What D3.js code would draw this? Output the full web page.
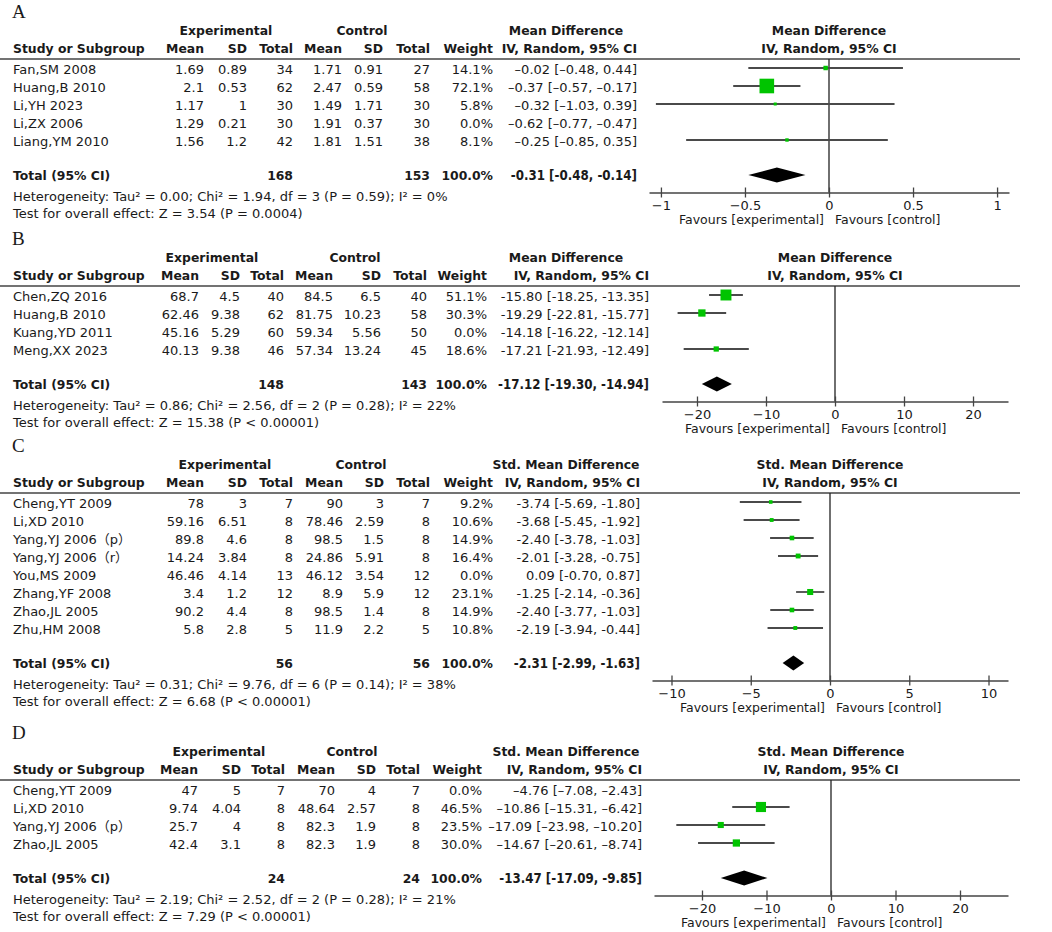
<!DOCTYPE html>
<html>
<head>
<meta charset="utf-8">
<script src="https://cdn.jsdelivr.net/npm/d3@7"></script>
<style>
  body { margin: 0; background: #fff; }
  svg text { font-family: "DejaVu Sans", "Noto Sans CJK SC", sans-serif; fill: #1a1a1a; }
  svg text.cond { font-family: "DejaVu Sans Condensed", "DejaVu Sans", sans-serif; font-stretch: condensed; }
</style>
</head>
<body>
<div id="container"></div>
<script>
/** DATA */
// A
const studiesA = ["Fan,SM 2008", "Huang,B 2010", "Li,YH 2023", "Li,ZX 2006", "Liang,YM 2010"];
const expMeanA = [1.69, 2.1, 1.17, 1.29, 1.56];
const expSdA = [0.89, 0.53, 1, 0.21, 1.2];
const expNA = [34, 62, 30, 30, 42];
const ctlMeanA = [1.71, 2.47, 1.49, 1.91, 1.81];
const ctlSdA = [0.91, 0.59, 1.71, 0.37, 1.51];
const ctlNA = [27, 58, 30, 30, 38];
const weightA = [14.1, 72.1, 5.8, 0.0, 8.1];
const effA = [-0.02, -0.37, -0.32, -0.62, -0.25];
const lowA = [-0.48, -0.57, -1.03, -0.77, -0.85];
const highA = [0.44, -0.17, 0.39, -0.47, 0.35];
const totalA = [168, 153, 100.0, -0.31, -0.48, -0.14];
const hetA = "Heterogeneity: Tau² = 0.00; Chi² = 1.94, df = 3 (P = 0.59); I² = 0%";
const testA = "Test for overall effect: Z = 3.54 (P = 0.0004)";
const ticksA = [-1, -0.5, 0, 0.5, 1];

// B
const studiesB = ["Chen,ZQ 2016", "Huang,B 2010", "Kuang,YD 2011", "Meng,XX 2023"];
const expMeanB = [68.7, 62.46, 45.16, 40.13];
const expSdB = [4.5, 9.38, 5.29, 9.38];
const expNB = [40, 62, 60, 46];
const ctlMeanB = [84.5, 81.75, 59.34, 57.34];
const ctlSdB = [6.5, 10.23, 5.56, 13.24];
const ctlNB = [40, 58, 50, 45];
const weightB = [51.1, 30.3, 0.0, 18.6];
const effB = [-15.80, -19.29, -14.18, -17.21];
const lowB = [-18.25, -22.81, -16.22, -21.93];
const highB = [-13.35, -15.77, -12.14, -12.49];
const totalB = [148, 143, 100.0, -17.12, -19.30, -14.94];
const hetB = "Heterogeneity: Tau² = 0.86; Chi² = 2.56, df = 2 (P = 0.28); I² = 22%";
const testB = "Test for overall effect: Z = 15.38 (P < 0.00001)";
const ticksB = [-20, -10, 0, 10, 20];

// C
const studiesC = ["Cheng,YT 2009", "Li,XD 2010", "Yang,YJ 2006（p）", "Yang,YJ 2006（r）", "You,MS 2009", "Zhang,YF 2008", "Zhao,JL 2005", "Zhu,HM 2008"];
const expMeanC = [78, 59.16, 89.8, 14.24, 46.46, 3.4, 90.2, 5.8];
const expSdC = [3, 6.51, 4.6, 3.84, 4.14, 1.2, 4.4, 2.8];
const expNC = [7, 8, 8, 8, 13, 12, 8, 5];
const ctlMeanC = [90, 78.46, 98.5, 24.86, 46.12, 8.9, 98.5, 11.9];
const ctlSdC = [3, 2.59, 1.5, 5.91, 3.54, 5.9, 1.4, 2.2];
const ctlNC = [7, 8, 8, 8, 12, 12, 8, 5];
const weightC = [9.2, 10.6, 14.9, 16.4, 0.0, 23.1, 14.9, 10.8];
const effC = [-3.74, -3.68, -2.40, -2.01, 0.09, -1.25, -2.40, -2.19];
const lowC = [-5.69, -5.45, -3.78, -3.28, -0.70, -2.14, -3.77, -3.94];
const highC = [-1.80, -1.92, -1.03, -0.75, 0.87, -0.36, -1.03, -0.44];
const totalC = [56, 56, 100.0, -2.31, -2.99, -1.63];
const hetC = "Heterogeneity: Tau² = 0.31; Chi² = 9.76, df = 6 (P = 0.14); I² = 38%";
const testC = "Test for overall effect: Z = 6.68 (P < 0.00001)";
const ticksC = [-10, -5, 0, 5, 10];

// D
const studiesD = ["Cheng,YT 2009", "Li,XD 2010", "Yang,YJ 2006（p）", "Zhao,JL 2005"];
const expMeanD = [47, 9.74, 25.7, 42.4];
const expSdD = [5, 4.04, 4, 3.1];
const expND = [7, 8, 8, 8];
const ctlMeanD = [70, 48.64, 82.3, 82.3];
const ctlSdD = [4, 2.57, 1.9, 1.9];
const ctlND = [7, 8, 8, 8];
const weightD = [0.0, 46.5, 23.5, 30.0];
const effD = [-4.76, -10.86, -17.09, -14.67];
const lowD = [-7.08, -15.31, -23.98, -20.61];
const highD = [-2.43, -6.42, -10.20, -8.74];
const totalD = [24, 24, 100.0, -13.47, -17.09, -9.85];
const hetD = "Heterogeneity: Tau² = 2.19; Chi² = 2.52, df = 2 (P = 0.28); I² = 21%";
const testD = "Test for overall effect: Z = 7.29 (P < 0.00001)";
const ticksD = [-20, -10, 0, 10, 20];

const panelLabels = ["A", "B", "C", "D"];
const effectTitles = ["Mean Difference", "Mean Difference", "Std. Mean Difference", "Std. Mean Difference"];

/** LAYOUT (positions only) */
const width = 1052, height = 932;
const layout = [
  { top: 59,  zero: 829, half: 180, ext: 1.071, cols: [204, 247, 293, 342, 383, 430, 493], effRight: 637, expX: 226, ctlX: 362, minus: "\u2013" },
  { top: 286, zero: 835, half: 173, ext: 25.07, cols: [199, 240, 284, 333, 381, 427, 487], effRight: 649, expX: 212, ctlX: 355, minus: "-" },
  { top: 493, zero: 830, half: 178, ext: 11.23, cols: [204, 247, 293, 343, 384, 430, 493], effRight: 640, expX: 225, ctlX: 361, minus: "-" },
  { top: 780, zero: 831, half: 177, ext: 27.44, cols: [198, 241, 285, 335, 376, 420, 482], effRight: 642, expX: 219, ctlX: 352, minus: "\u2013" }
];

const panels = [
  { studies: studiesA, cols: [expMeanA, expSdA, expNA, ctlMeanA, ctlSdA, ctlNA], weight: weightA, eff: effA, low: lowA, high: highA, total: totalA, het: hetA, test: testA, ticks: ticksA },
  { studies: studiesB, cols: [expMeanB, expSdB, expNB, ctlMeanB, ctlSdB, ctlNB], weight: weightB, eff: effB, low: lowB, high: highB, total: totalB, het: hetB, test: testB, ticks: ticksB },
  { studies: studiesC, cols: [expMeanC, expSdC, expNC, ctlMeanC, ctlSdC, ctlNC], weight: weightC, eff: effC, low: lowC, high: highC, total: totalC, het: hetC, test: testC, ticks: ticksC },
  { studies: studiesD, cols: [expMeanD, expSdD, expND, ctlMeanD, ctlSdD, ctlND], weight: weightD, eff: effD, low: lowD, high: highD, total: totalD, het: hetD, test: testD, ticks: ticksD }
];

const sizeScale = d3.scaleLinear().domain([0, 100]).range([2, 19.5]);
const pct = d3.format(".1f");

const svg = d3.select("#container").append("svg")
  .attr("width", width)
  .attr("height", height);

function txt(g, x, y, s, anchor, bold, size) {
  return g.append("text")
    .attr("x", x)
    .attr("y", y)
    .attr("text-anchor", anchor || "start")
    .attr("font-weight", bold ? "bold" : "normal")
    .attr("font-size", size || (bold ? 12.4 : 13))
    .text(s);
}

function drawPanel(p, L, k) {
  const g = svg.append("g");
  const x = d3.scaleLinear().domain([-L.ext, L.ext]).range([L.zero - L.half, L.zero + L.half]);
  const fmt2 = (v, m) => d3.format(".2f")(v).replace("\u2212", m);
  const ci = (e, lo, hi, m) => `${fmt2(e, m)} [${fmt2(lo, m)}, ${fmt2(hi, m)}]`;
  const rowY = i => L.top + 10 + 18 * i;   // text centre
  const n = p.studies.length;
  const totalY = rowY(n - 1) + 34;
  const axisY = totalY + 17.5;

  // panel letter
  g.append("text")
    .attr("x", 12).attr("y", L.top - 41)
    .style("font-family", "'Liberation Serif', serif")
    .attr("font-size", 19)
    .text(panelLabels[k]);

  // headers
  txt(g, L.expX, L.top - 24, "Experimental", "middle", true);
  txt(g, L.ctlX, L.top - 24, "Control", "middle", true);
  txt(g, 566, L.top - 24, effectTitles[k], "middle", true);
  txt(g, L.zero, L.top - 24, effectTitles[k], "middle", true);
  txt(g, 13, L.top - 6, "Study or Subgroup", "start", true);
  ["Mean", "SD", "Total", "Mean", "SD", "Total", "Weight"].forEach((h, j) => {
    txt(g, L.cols[j], L.top - 6, h, "end", true);
  });
  txt(g, L.effRight, L.top - 6, "IV, Random, 95% CI", "end", true);
  txt(g, L.zero, L.top - 6, "IV, Random, 95% CI", "middle", true);

  g.append("line")
    .attr("x1", 0).attr("x2", 1020)
    .attr("y1", L.top).attr("y2", L.top)
    .attr("stroke", "#444").attr("stroke-width", 1.5);

  // zero line
  g.append("line")
    .attr("x1", x(0)).attr("x2", x(0))
    .attr("y1", L.top).attr("y2", axisY)
    .attr("stroke", "#222").attr("stroke-width", 1.3);

  // study rows
  p.studies.forEach((s, i) => {
    const base = rowY(i) + 4.7;
    txt(g, 13, base, s);
    p.cols.forEach((col, j) => txt(g, L.cols[j], base, String(col[i]), "end"));
    txt(g, L.cols[6], base, pct(p.weight[i]) + "%", "end");
    txt(g, L.effRight, base, ci(p.eff[i], p.low[i], p.high[i], L.minus), "end");
  });

  // CI lines and squares (studies with weight > 0 only)
  const idx = d3.range(n).filter(i => p.weight[i] > 0);
  g.selectAll(".ci").data(idx).join("line")
    .attr("class", "ci")
    .attr("x1", i => x(p.low[i])).attr("x2", i => x(p.high[i]))
    .attr("y1", i => rowY(i) - 1).attr("y2", i => rowY(i) - 1)
    .attr("stroke", "#4a4a4a").attr("stroke-width", 1.8);
  g.selectAll(".sq").data(idx).join("rect")
    .attr("class", "sq")
    .attr("x", i => x(p.eff[i]) - sizeScale(p.weight[i]) / 2)
    .attr("y", i => rowY(i) - 1 - sizeScale(p.weight[i]) / 2)
    .attr("width", i => sizeScale(p.weight[i]))
    .attr("height", i => sizeScale(p.weight[i]))
    .attr("fill", "#00c400");

  // total row
  const tb = totalY + 4.5;
  txt(g, 13, tb, "Total (95% CI)", "start", true);
  txt(g, L.cols[2], tb, String(p.total[0]), "end", true);
  txt(g, L.cols[5], tb, String(p.total[1]), "end", true);
  txt(g, L.cols[6], tb, pct(p.total[2]) + "%", "end", true);
  txt(g, L.effRight, tb, ci(p.total[3], p.total[4], p.total[5], "-"), "end", true, 13.2)
    .attr("class", "cond");

  g.append("path")
    .attr("d", d3.line()([
      [x(p.total[4]), totalY],
      [x(p.total[3]), totalY - 7.5],
      [x(p.total[5]), totalY],
      [x(p.total[3]), totalY + 7.5]
    ]) + "Z")
    .attr("fill", "#000");

  txt(g, 13, totalY + 21 + 4.7, p.het);
  txt(g, 13, totalY + 38.5 + 4.7, p.test);

  // axis
  const ax = g.append("g")
    .attr("transform", `translate(0,${axisY})`)
    .call(d3.axisBottom(x).tickValues(p.ticks).tickFormat(d3.format("")).tickSizeOuter(0).tickSizeInner(5));
  ax.select(".domain").attr("stroke", "#444").attr("stroke-width", 1.5);
  ax.selectAll(".tick line").attr("y1", -5).attr("y2", 5).attr("stroke", "#444").attr("stroke-width", 1.3);
  ax.selectAll(".tick text")
    .attr("y", 8)
    .attr("font-size", 13)
    .style("font-family", "'DejaVu Sans', sans-serif")
    .attr("fill", "#1a1a1a");

  txt(g, x(0) - 5, axisY + 27 + 4.5, "Favours [experimental]", "end", false, 12.5);
  txt(g, x(0) + 6, axisY + 27 + 4.5, "Favours [control]", "start", false, 12.5);
}

panels.forEach((p, k) => drawPanel(p, layout[k], k));
</script>
</body>
</html>
